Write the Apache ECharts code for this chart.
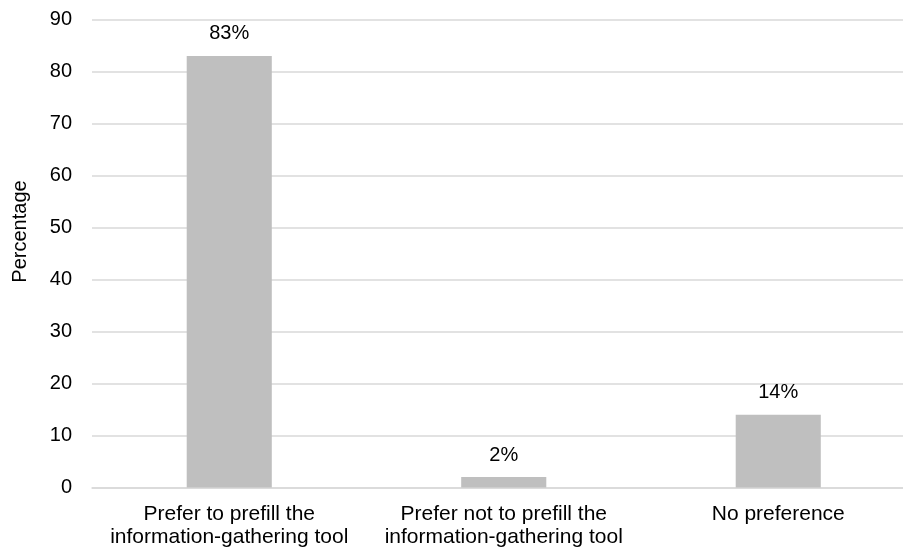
<!DOCTYPE html>
<html>
<head>
<meta charset="utf-8">
<script src="https://cdn.jsdelivr.net/npm/echarts@6/dist/echarts.min.js"></script>
<style>
  html, body { margin: 0; padding: 0; background: #fff; }
  #chart { width: 903px; height: 549px; }
</style>
</head>
<body>
<div id="chart"></div>
<script>
// 数据
const categories = [
  'Prefer to prefill the\ninformation-gathering tool',
  'Prefer not to prefill the\ninformation-gathering tool',
  'No preference'
]
const values = [83, 2, 14]
const yTicks = [0, 10, 20, 30, 40, 50, 60, 70, 80, 90]

const chart = echarts.init(document.getElementById('chart'))
chart.setOption({
  animation: false,
  textStyle: { fontFamily: 'Liberation Sans, Arial, sans-serif' },
  grid: {
    left: 92, top: 19.5, width: 823.5, bottom: 61.5,
    containLabel: false, outerBoundsMode: 'none'
  },
  xAxis: {
    type: 'category',
    data: categories,
    axisTick: { show: false },
    axisLine: { lineStyle: { color: '#d9d9d9', width: 1.5 } },
    axisLabel: { color: '#000', fontSize: 21, lineHeight: 23, margin: 15, interval: 0 }
  },
  yAxis: {
    type: 'value',
    min: yTicks[0],
    max: yTicks[yTicks.length - 1],
    interval: 10,
    name: 'Percentage',
    nameLocation: 'middle',
    nameGap: 62,
    nameTextStyle: { color: '#000', fontSize: 20, padding: [0, 0, 0, 44] },
    axisLine: { show: false },
    axisTick: { show: false },
    axisLabel: { color: '#000', fontSize: 20, margin: 20 },
    splitLine: { lineStyle: { color: '#d9d9d9', width: 1.5 } }
  },
  series: [
    {
      type: 'bar',
      data: values,
      barWidth: '31%',
      itemStyle: { color: '#bfbfbf' },
      label: {
        show: true,
        position: 'top',
        distance: 12,
        color: '#000',
        fontSize: 20,
        formatter: '{c}%'
      }
    }
  ]
})
</script>
</body>
</html>
